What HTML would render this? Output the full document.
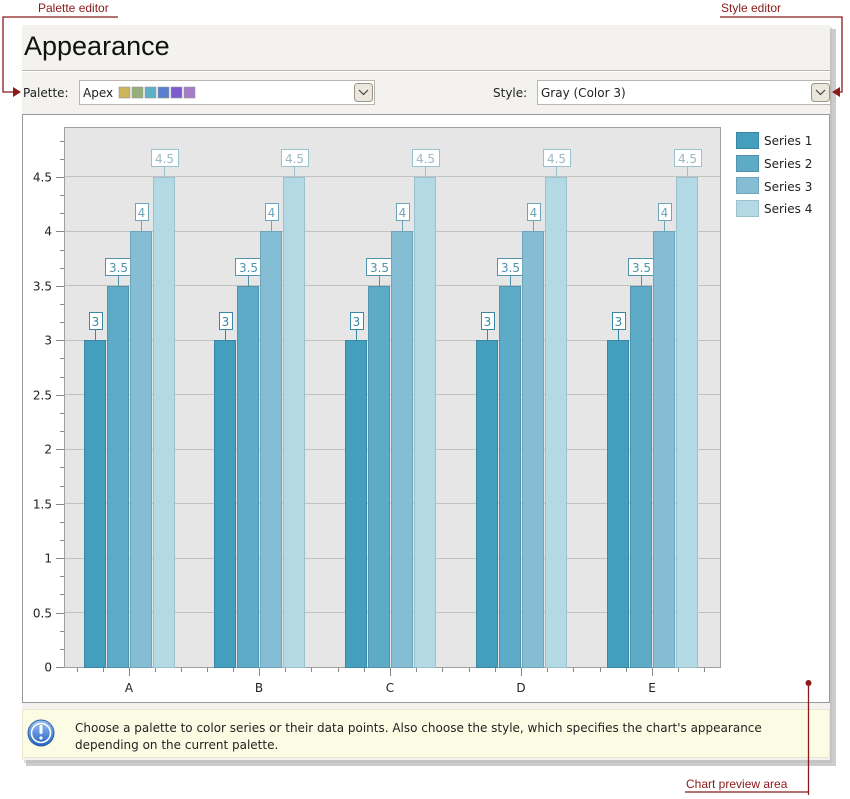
<!DOCTYPE html>
<html><head><meta charset="utf-8"><style>
body{margin:0;background:#fff;width:850px;height:795px;overflow:hidden;font-family:"DejaVu Sans","Liberation Sans",sans-serif}
</style></head><body>
<svg width="850" height="795" xmlns="http://www.w3.org/2000/svg" font-family="DejaVu Sans, Liberation Sans, sans-serif">
<defs>
<linearGradient id="ib" x1="0" y1="0" x2="0" y2="1"><stop offset="0" stop-color="#9cc4f0"/><stop offset="1" stop-color="#1f5fc4"/></linearGradient>
</defs>
<!-- shadow -->
<rect x="26" y="29" width="810" height="737" fill="#9a9a9a" opacity="0.5"/>
<rect x="24" y="27" width="808" height="736" fill="#bbb" opacity="0.5"/>
<!-- panel -->
<rect x="22" y="25" width="808" height="735" fill="#f3f2ee"/>
<text x="24" y="55" font-size="27" font-family="Liberation Sans, sans-serif" fill="#111">Appearance</text>
<line x1="22" y1="70.5" x2="830" y2="70.5" stroke="#b8b6ae"/>
<line x1="22" y1="71.5" x2="830" y2="71.5" stroke="#fff"/>
<!-- palette row -->
<text x="23" y="97" font-size="12" fill="#222">Palette:</text>
<rect x="79.5" y="80.5" width="295" height="24" fill="#fff" stroke="#b8b6ae"/>
<text x="83" y="97" font-size="12" fill="#222">Apex</text>
<g stroke="#999" stroke-width="0.6">
<rect x="119" y="87" width="11" height="11" fill="#cdb45a"/>
<rect x="132" y="87" width="11" height="11" fill="#96ad7c"/>
<rect x="145" y="87" width="11" height="11" fill="#5fb0c6"/>
<rect x="158" y="87" width="11" height="11" fill="#5a7fd0"/>
<rect x="171" y="87" width="11" height="11" fill="#7a5cd0"/>
<rect x="184" y="87" width="11" height="11" fill="#a77cc6"/>
</g>
<rect x="354.5" y="83.5" width="18" height="18" rx="3" fill="#ece7dc" stroke="#9a9488"/>
<path d="M359 90 l4.5 4.5 l4.5 -4.5" stroke="#444" fill="none" stroke-width="1.2"/>
<text x="493" y="97" font-size="12" fill="#222">Style:</text>
<rect x="537.5" y="80.5" width="293" height="24" fill="#fff" stroke="#b8b6ae"/>
<text x="541" y="97" font-size="12" fill="#222">Gray (Color 3)</text>
<rect x="811.5" y="83.5" width="18" height="18" rx="3" fill="#ece7dc" stroke="#9a9488"/>
<path d="M816 90 l4.5 4.5 l4.5 -4.5" stroke="#444" fill="none" stroke-width="1.2"/>
<!-- chart area -->
<rect x="22.5" y="114.5" width="807" height="588" fill="#fff" stroke="#9a9a9a"/>
<rect x="64.5" y="127.5" width="656" height="540" fill="#e6e6e6" stroke="#a0a0a0"/>
<g stroke="#c2c2c2">
<line x1="65" x2="720" y1="612.5" y2="612.5"/><line x1="65" x2="720" y1="558.5" y2="558.5"/>
<line x1="65" x2="720" y1="503.5" y2="503.5"/><line x1="65" x2="720" y1="449.5" y2="449.5"/>
<line x1="65" x2="720" y1="394.5" y2="394.5"/><line x1="65" x2="720" y1="340.5" y2="340.5"/>
<line x1="65" x2="720" y1="285.5" y2="285.5"/><line x1="65" x2="720" y1="231.5" y2="231.5"/>
<line x1="65" x2="720" y1="176.5" y2="176.5"/>
</g>
<g id="ax" stroke="#888"></g>
<g id="bars"></g>
<g font-size="12" fill="#222" text-anchor="end" id="yl"></g>
<g font-size="12" fill="#222" text-anchor="middle">
<text x="129" y="692">A</text><text x="259" y="692">B</text><text x="390" y="692">C</text><text x="521" y="692">D</text><text x="652" y="692">E</text>
</g>
<!-- legend -->
<g font-size="12" fill="#222">
<rect x="736.5" y="132.5" width="22" height="16" fill="#449fbf" stroke="#3a87a3"/><text x="764" y="145">Series 1</text>
<rect x="736.5" y="155.5" width="22" height="16" fill="#5eabc8" stroke="#4f93ad"/><text x="764" y="168">Series 2</text>
<rect x="736.5" y="177.5" width="22" height="16" fill="#84bdd4" stroke="#6fa5bb"/><text x="764" y="191">Series 3</text>
<rect x="736.5" y="200.5" width="22" height="16" fill="#b3d9e5" stroke="#99c1ce"/><text x="764" y="213">Series 4</text>
</g>
<!-- info bar -->
<rect x="22.5" y="709.5" width="807" height="48" fill="#fcfce4" stroke="#e8e6cc"/>
<circle cx="41" cy="733" r="13" fill="url(#ib)" stroke="#2f5fa8"/>
<circle cx="41" cy="733" r="9.5" fill="none" stroke="#fff" stroke-width="1.5"/>
<rect x="39.5" y="725" width="3" height="9" rx="1.2" fill="#fff"/>
<circle cx="41" cy="738" r="1.6" fill="#fff"/>
<text x="75" y="732" font-size="12" fill="#222">Choose a palette to color series or their data points. Also choose the style, which specifies the chart's appearance</text>
<text x="75" y="749" font-size="12" fill="#222">depending on the current palette.</text>
<!-- annotations -->
<g stroke="#8b1a1a" fill="none" stroke-width="1.3">
<path d="M118 17 H3 V92 H14"/>
<path d="M720 17 H842 V92 H838"/>
<path d="M808.5 683 V795"/><path d="M685 792 H808"/>
</g>
<path d="M13 87 L21 92 L13 97 Z" fill="#8b1a1a"/>
<path d="M840 87 L832 92 L840 97 Z" fill="#8b1a1a"/>
<circle cx="808.5" cy="683" r="3" fill="#8b1a1a"/>
<g font-size="12" fill="#8b1a1a" font-family="Liberation Sans, sans-serif">
<text x="38" y="12">Palette editor</text>
<text x="721" y="12">Style editor</text>
<text x="686" y="788">Chart preview area</text>
</g>
</svg>
<script>
var ns="http://www.w3.org/2000/svg";
function el(p,t,a,tx){var e=document.createElementNS(ns,t);for(var k in a)e.setAttribute(k,a[k]);if(tx)e.textContent=tx;p.appendChild(e);return e;}
var ax=document.getElementById('ax'),bars=document.getElementById('bars'),yl=document.getElementById('yl');
function Y(v){return 667-108.9*v;}
for(var i=0;i<=29;i++){var y=Math.round(667-18.15*i)+.5;el(ax,'line',{x1:60,x2:64,y1:y,y2:y});}
var labs=['0','0.5','1','1.5','2','2.5','3','3.5','4','4.5'];
for(i=0;i<10;i++){var y=Math.round(Y(i*0.5))+.5;el(ax,'line',{x1:56,x2:64,y1:y,y2:y});el(yl,'text',{x:52,y:y+4},labs[i]);}
var cx=[129,259,390,521,652];
cx.forEach(function(c){el(ax,'line',{x1:c+.5,x2:c+.5,y1:668,y2:676});
 for(var k=-2;k<=2;k++){if(k==0)continue;var x=c+k*26+.5;el(ax,'line',{x1:x,x2:x,y1:668,y2:672});}});
var fills=['#449fbf','#5eabc8','#84bdd4','#b3d9e5'],strk=['#3a87a3','#4f93ad','#6fa5bb','#99c1ce'],tc=['#3a87a3','#4f93ad','#6fa5bb','#9ab9c3'];
var vals=[3,3.5,4,4.5],txt=['3','3.5','4','4.5'];
cx.forEach(function(c){for(var s=0;s<4;s++){var x0=c-45+s*23,y0=Math.round(Y(vals[s]));
 el(bars,'rect',{x:x0+.5,y:y0+.5,width:21,height:667-y0,fill:fills[s],stroke:strk[s]});
 var mx=x0+11,w=txt[s].length*7+6;
 el(bars,'line',{x1:mx+.5,x2:mx+.5,y1:y0-10,y2:y0,stroke:strk[s]});
 el(bars,'rect',{x:Math.round(mx-w/2)+.5,y:y0-27.5,width:w,height:17,fill:'#fff',stroke:strk[s]});
 el(bars,'text',{x:mx+.5,y:y0-14,'font-size':12,fill:tc[s],'text-anchor':'middle'},txt[s]);}});
</script>
</body></html>
